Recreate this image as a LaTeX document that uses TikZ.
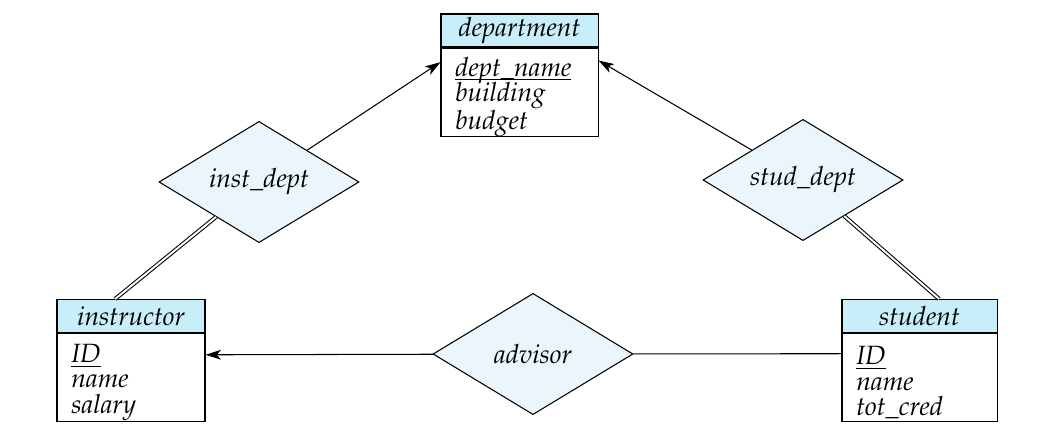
\documentclass[tikz,border=0pt]{standalone}
\usepackage[T1]{fontenc}
\usepackage{mathpazo}
\usetikzlibrary{shapes.geometric,arrows.meta}
\definecolor{headblue}{HTML}{C8EEF9}
\definecolor{relblue}{HTML}{EAF6FC}
\newcommand{\erfont}{\fontsize{18.8}{18.2}\selectfont\itshape}
\newcommand{\keyattr}[1]{\rule{0pt}{20pt}\smash{\underline{\smash{#1}}}}
\tikzset{
  entity/.style={draw, fill=headblue, minimum height=0.825cm, inner sep=0pt, font=\erfont},
  attrs/.style={draw, fill=white, anchor=north, minimum height=2.2cm, align=left, inner xsep=0.36cm, inner ysep=0pt, font=\erfont},
  rel/.style={draw, diamond, fill=relblue, aspect=1.65, inner sep=0pt, minimum width=5cm, minimum height=3.03cm, font=\erfont},
  total/.style={double, double distance=1.4pt},
  toone/.style={-{Stealth[length=11pt,width=7pt,inset=3pt]}}
}
\begin{document}
\begin{tikzpicture}[x=0.025cm, y=-0.025cm, line width=0.75pt]
  \useasboundingbox (0,0) rectangle (1037,423);
  % entity sets
  \node[entity, minimum width=3.925cm] (dept) at (519.5,30.5) {department};
  \node[attrs, text width=3.205cm] (deptattr) at (dept.south) {\keyattr{dept\_name}\\building\\budget};
  \node[entity, minimum width=3.7cm] (instr) at (131,316) {instructor};
  \node[attrs, text width=2.98cm] (instrattr) at (instr.south) {\keyattr{ID}\\name\\salary};
  \node[entity, minimum width=3.875cm] (stud) at (919.5,316) {student};
  \node[attrs, text width=3.155cm] (studattr) at (stud.south) {\keyattr{ID}\\name\\tot\_cred};
  % relationship sets
  \node[rel] (instdept) at (259,182) {inst\_dept};
  \node[rel] (studdept) at (803,180) {stud\_dept};
  \node[rel] (advisor) at (533,354) {advisor};
  % connectors
  \draw[toone] (instdept) -- (deptattr.159);
  \draw[toone] (studdept) -- (deptattr.22);
  \draw[total] (instdept) -- (instr.133);
  \draw[total] (studdept) -- (stud.41);
  \draw[toone] (advisor) -- (instrattr.17);
  \draw (advisor) -- (studattr.163);
\end{tikzpicture}
\end{document}
